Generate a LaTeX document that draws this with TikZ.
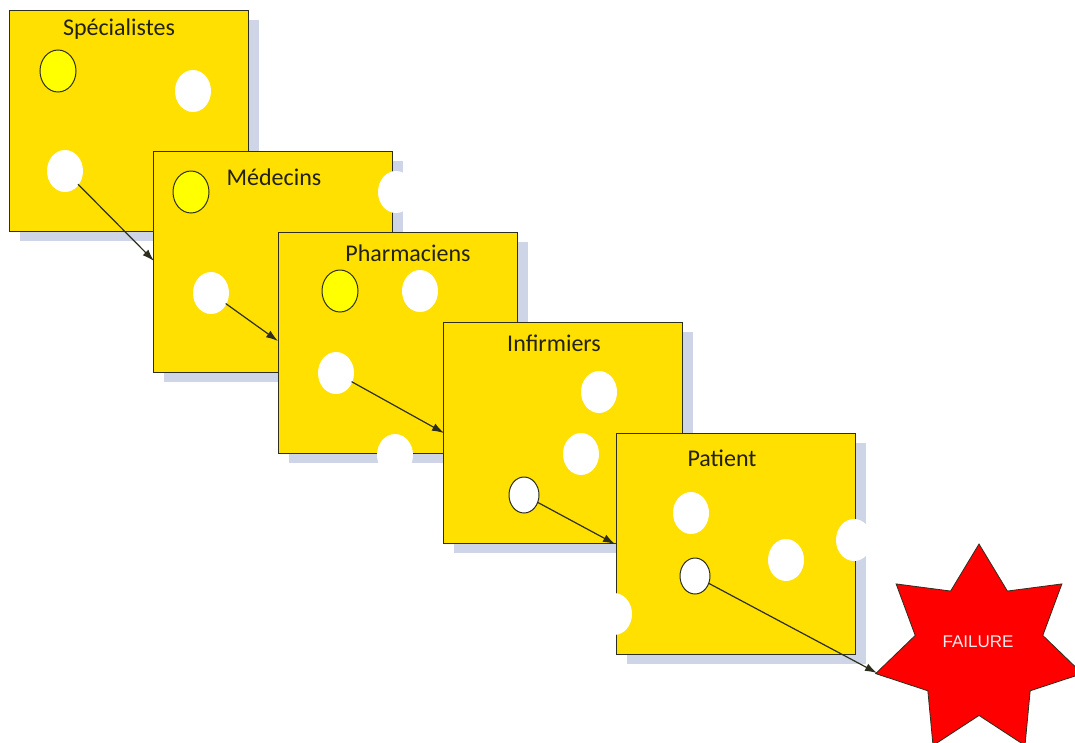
\documentclass[tikz,border=0pt]{standalone}
\usepackage{fontspec}
\setmainfont{Carlito}
\newfontfamily\arialfont{Liberation Sans}
\usetikzlibrary{shapes.geometric,arrows.meta,shadows}
\definecolor{cheese}{HTML}{FFE000}
\definecolor{brightyel}{HTML}{FFFF00}
\definecolor{shadowc}{HTML}{CDD5E6}
\definecolor{edgec}{HTML}{2E2E1E}
\definecolor{txtc}{HTML}{22220E}
\definecolor{failtxt}{HTML}{F0ECEC}
\tikzset{
  slice/.style={draw=edgec, line width=1.2pt, fill=cheese, minimum width=239pt, minimum height=221pt,
    inner sep=0, anchor=north west,
    drop shadow={shadow xshift=10pt, shadow yshift=-9pt, fill=shadowc, opacity=1}},
  hole/.style={ellipse, fill=white, minimum width=36pt, minimum height=42pt, inner sep=0},
  yhole/.style={ellipse, draw=edgec, line width=1pt, fill=brightyel, minimum width=36pt, minimum height=42pt, inner sep=0},
  whole/.style={ellipse, draw=edgec, line width=1pt, fill=white, minimum width=30pt, minimum height=36pt, inner sep=0},
  lbl/.style={text=txtc, font=\fontsize{24}{28}\selectfont, inner sep=0},
  arr/.style={draw=edgec, line width=1.2pt, -{Latex[length=12pt,width=8pt]}, shorten <=-1pt},
}
\begin{document}
\begin{tikzpicture}[x=1pt,y=-1pt]
\fill[white] (0,0) rectangle (1075,742);
\useasboundingbox (0,0) rectangle (1075,742);
\clip (0,0) rectangle (1075,742);

% slice 1
\node[slice] (b1) at (9,10) {};
\node[yhole] (y1) at (58,71) {};
\node[hole] (h1a) at (193,91) {};
\node[hole] (h1b) at (65,171) {};
\node[lbl] (l1) at (119,29) {Spécialistes};

% slice 2
\node[slice] (b2) at (153,151) {};
\node[yhole] (y2) at (191,192) {};
\node[hole] (h2a) at (396,192) {};
\node[hole] (h2b) at (211,293) {};
\node[lbl] (l2) at (274,177) {Médecins};

% slice 3
\node[slice] (b3) at (278,232) {};
\node[yhole] (y3) at (340,291) {};
\node[hole] (h3a) at (420,291) {};
\node[hole] (h3b) at (336,373) {};
\node[hole] (h3c) at (395,455) {};
\node[lbl] (l3) at (408,253) {Pharmaciens};

% slice 4
\node[slice] (b4) at (443,322) {};
\node[hole] (h4a) at (599,392) {};
\node[hole] (h4b) at (581,454) {};
\node[whole] (h4c) at (524,495) {};
\node[lbl] (l4) at (554,343) {Infirmiers};

% slice 5
\node[slice] (b5) at (616,433) {};
\node[hole] (h5a) at (691,513) {};
\node[hole] (h5b) at (786,560) {};
\node[hole] (h5c) at (854,540) {};
\node[hole] (h5d) at (614,614) {};
\node[whole] (h5e) at (695,576) {};
\node[lbl] (l5) at (722,458) {Patient};

% failure star
\node[star, star points=7, star point ratio=1.62, minimum size=212pt, inner sep=0,
      fill=red, draw=edgec, line width=0.8pt] (fail) at (979,650) {};
\node[text=failtxt, font=\arialfont\fontsize{17}{20}\selectfont, inner sep=0] (ft) at (978,642) {FAILURE};

% arrows
\coordinate (t1) at (154,261);
\coordinate (t2) at (278,341);
\coordinate (t3) at (444,433);
\coordinate (t4) at (615,544);
\coordinate (t5) at (877,673);
\draw[arr] (h1b) -- (t1);
\draw[arr] (h2b) -- (t2);
\draw[arr] (h3b) -- (t3);
\draw[arr] (h4c) -- (t4);
\draw[arr] (h5e) -- (t5);
\end{tikzpicture}
\end{document}
